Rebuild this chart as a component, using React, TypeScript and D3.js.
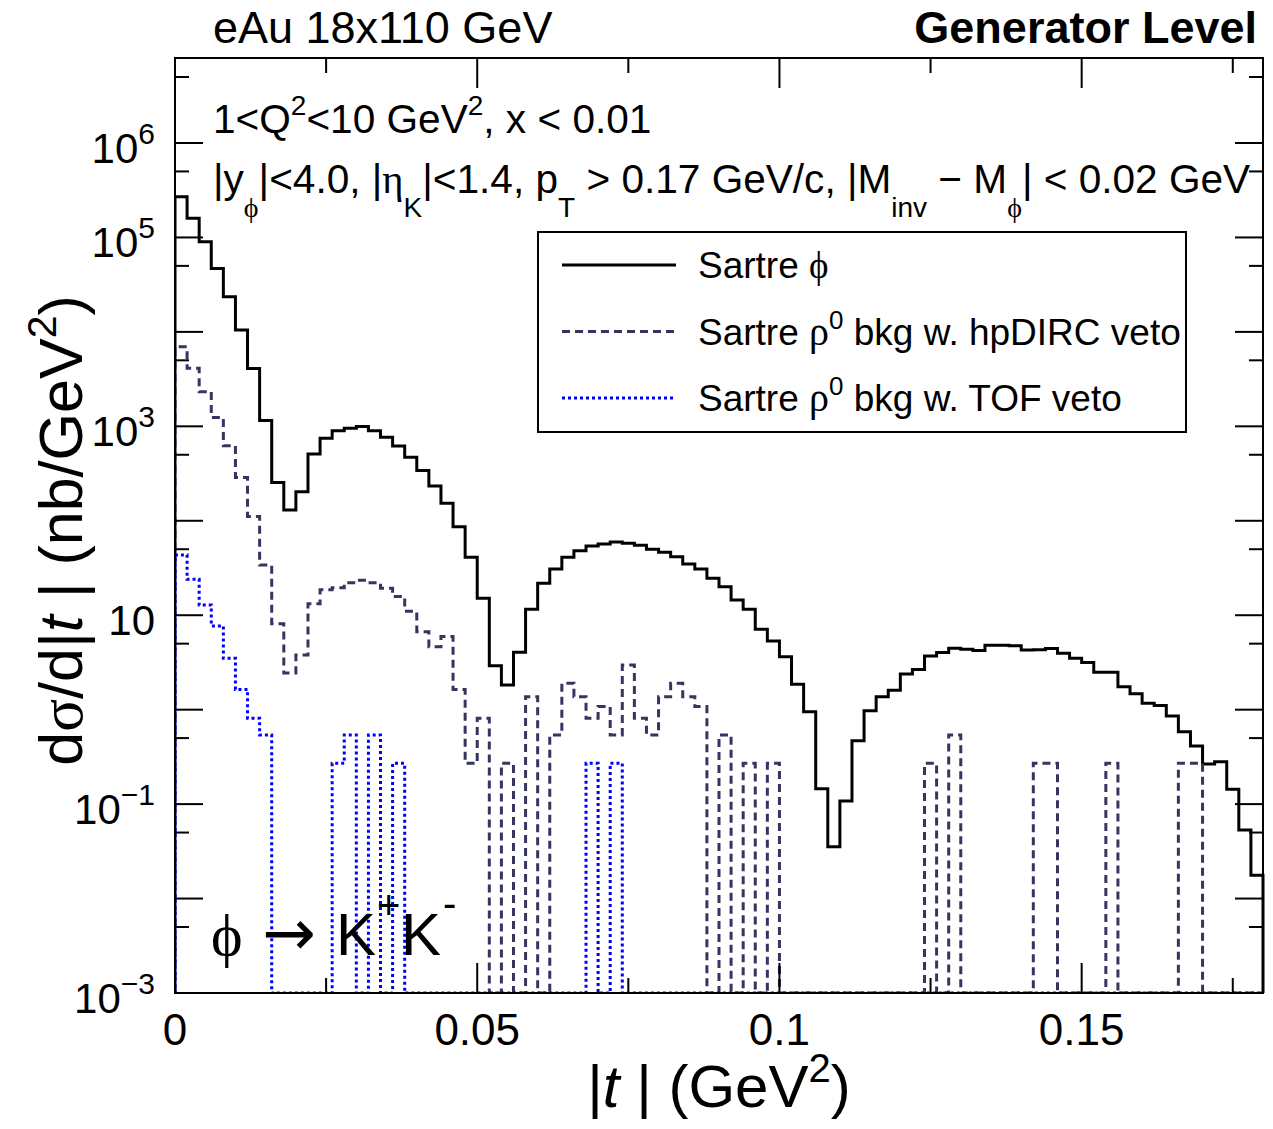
import React from "react";
import * as d3 from "d3";

// ---- data (|t| histograms, 90 bins of 0.002 GeV^2 from 0 to 0.18) ----
const binWidth = 0.002;
const binCount = 90;

const sartrePhi = [
  2.7e5, 1.6e5, 9.0e4, 4.7e4, 2.35e4, 1.05e4, 4100, 1150, 254, 130,
  203, 509, 746, 900, 953, 993, 900, 766, 619, 470,
  340, 233, 153, 86.7, 41, 15.1, 2.92, 1.82, 4.05, 11.6,
  21.8, 30.9, 41, 48.3, 54.1, 56.8, 59.6, 57.7, 55, 49.9,
  46.3, 41.7, 34.9, 30.9, 24.6, 20.0, 14.5, 11.6, 7.1, 5.33,
  3.64, 1.86, 0.953, 0.145, 0.0354, 0.108, 0.47, 0.975, 1.37, 1.61,
  2.39, 2.67, 3.7, 4.02, 4.47, 4.36, 4.22, 4.8, 4.8, 4.76,
  4.29, 4.32, 4.43, 3.95, 3.5, 3.15, 2.49, 2.49, 1.75, 1.47,
  1.17, 1.11, 0.857, 0.585, 0.412, 0.266, 0.281, 0.144, 0.0532, 0.0177,
];

const rhoHpDirc = [
  6970, 4120, 2330, 1240, 624, 288, 111, 34, 8.1, 2.45,
  3.79, 13.2, 18.6, 19.5, 22.1, 23.4, 22.1, 19.3, 15.8, 11.0,
  6.7, 4.65, 5.96, 1.64, 0.27, 0.81, 0, 0.27, 0, 1.37,
  0, 0.54, 1.9, 1.37, 0.81, 1.08, 0.54, 2.97, 0.81, 0.54,
  1.37, 1.9, 1.37, 1.08, 0, 0.54, 0, 0.27, 0, 0.27,
  0, 0, 0, 0, 0, 0, 0, 0, 0, 0,
  0, 0, 0.27, 0, 0.54, 0, 0, 0, 0, 0,
  0, 0.27, 0.27, 0, 0, 0, 0, 0.27, 0, 0,
  0, 0, 0, 0.27, 0.27, 0, 0, 0, 0, 0,
];

const rhoTof = [
  43.5, 24, 12.8, 7.7, 3.5, 1.64, 0.81, 0.54, 0, 0,
  0, 0, 0, 0.27, 0.54, 0, 0.54, 0, 0.27, 0,
  0, 0, 0, 0, 0, 0, 0, 0, 0, 0,
  0, 0, 0, 0, 0.27, 0, 0.27, 0, 0, 0,
  0, 0, 0, 0, 0, 0, 0, 0, 0, 0,
  0, 0, 0, 0, 0, 0, 0, 0, 0, 0,
  0, 0, 0, 0, 0, 0, 0, 0, 0, 0,
  0, 0, 0, 0, 0, 0, 0, 0, 0, 0,
  0, 0, 0, 0, 0, 0, 0, 0, 0, 0,
];

const xMajorTicks = [0, 0.05, 0.1, 0.15];
const xMinorTicks = [0.025, 0.075, 0.125, 0.175];
const xTickLabels = ["0", "0.05", "0.1", "0.15"];
const yMajorExps = [-3, -2, -1, 0, 1, 2, 3, 4, 5, 6];
const yLabelExps = [6, 5, 3, 1, -1, -3];

const PHI = "\u03D5";
const legendLabels = [
  "Sartre " + PHI,
  "Sartre ρ0 bkg w. hpDIRC veto",
  "Sartre ρ0 bkg w. TOF veto",
];

// ---- layout ----
const W = 1273;
const H = 1129;
const left = 175;
const right = 1263;
const top = 58;
const bottom = 993;
const yMin = 1e-3;
const yMax = Math.pow(10, 6.9);

const SANS = "'Liberation Sans', Arial, Helvetica, sans-serif";
const SERIF = "'Liberation Serif', 'Times New Roman', serif";

const x = d3.scaleLinear().domain([0, binCount * binWidth]).range([left, right]);
const y = d3.scaleLog().domain([yMin, yMax]).range([bottom, top]);

function histPath(vals: number[]): string {
  const pts: [number, number][] = [[0, yMin]];
  vals.forEach((v, i) => pts.push([i * binWidth, Math.max(v, yMin)]));
  pts.push([binCount * binWidth, Math.max(vals[vals.length - 1], yMin)]);
  pts.push([binCount * binWidth, yMin]);
  const line = d3
    .line<[number, number]>()
    .x((d) => x(d[0]))
    .y((d) => y(d[1]))
    .curve(d3.curveStepAfter);
  return line(pts) || "";
}

const series = [
  { vals: sartrePhi, color: "#000000", dash: "none", width: 3 },
  { vals: rhoHpDirc, color: "#35355f", dash: "8,5", width: 3 },
  { vals: rhoTof, color: "#0000ff", dash: "3,3", width: 3 },
];

export default function App() {
  const fs = 40.6;
  const sub = 28;
  return (
    <div style={{ position: "absolute", left: 0, top: 0 }}>
      <svg width={W} height={H} style={{ display: "block", background: "#fff" }}>
        <defs>
          <clipPath id="frame">
            <rect x={left} y={top - 2} width={right - left + 2} height={bottom - top + 3} />
          </clipPath>
        </defs>

        {/* histograms */}
        <g clipPath="url(#frame)">
          {series.map((s, i) => (
            <path
              key={i}
              d={histPath(s.vals)}
              fill="none"
              stroke={s.color}
              strokeWidth={s.width}
              strokeDasharray={s.dash}
              strokeLinejoin="miter"
            />
          ))}
        </g>

        {/* frame */}
        <rect x={left} y={top} width={right - left} height={bottom - top} fill="none" stroke="#000" strokeWidth={2} />

        {/* x ticks */}
        {xMajorTicks.map((t) => (
          <g key={"xM" + t}>
            <line x1={x(t)} x2={x(t)} y1={bottom} y2={bottom - 30} stroke="#000" strokeWidth={2} />
            <line x1={x(t)} x2={x(t)} y1={top} y2={top + 30} stroke="#000" strokeWidth={2} />
          </g>
        ))}
        {xMinorTicks.map((t) => (
          <g key={"xm" + t}>
            <line x1={x(t)} x2={x(t)} y1={bottom} y2={bottom - 15} stroke="#000" strokeWidth={2} />
            <line x1={x(t)} x2={x(t)} y1={top} y2={top + 15} stroke="#000" strokeWidth={2} />
          </g>
        ))}
        {xMajorTicks.map((t, i) => (
          <text key={"xl" + t} x={x(t)} y={1045} fontSize={44} fontFamily={SANS} textAnchor="middle">
            {xTickLabels[i]}
          </text>
        ))}

        {/* y ticks */}
        {yMajorExps.map((e) => {
          const v = Math.pow(10, e);
          const vm = 5 * Math.pow(10, e);
          return (
            <g key={"y" + e}>
              <line x1={left} x2={left + 28} y1={y(v)} y2={y(v)} stroke="#000" strokeWidth={2} />
              <line x1={right} x2={right - 28} y1={y(v)} y2={y(v)} stroke="#000" strokeWidth={2} />
              {vm < yMax && (
                <>
                  <line x1={left} x2={left + 14} y1={y(vm)} y2={y(vm)} stroke="#000" strokeWidth={2} />
                  <line x1={right} x2={right - 14} y1={y(vm)} y2={y(vm)} stroke="#000" strokeWidth={2} />
                </>
              )}
            </g>
          );
        })}
        {yLabelExps.map((e) => (
          <text key={"yl" + e} x={155} y={y(Math.pow(10, e)) + 20} fontSize={42} fontFamily={SANS} textAnchor="end">
            10
            {e !== 1 && (
              <tspan dy={-19} fontSize={30}>
                {e < 0 ? "\u2212" + Math.abs(e) : String(e)}
              </tspan>
            )}
          </text>
        ))}

        {/* axis titles */}
        <text x={(left + right) / 2} y={1107} fontSize={60} fontFamily={SANS} textAnchor="middle">
          |<tspan fontStyle="italic">t</tspan> | (GeV<tspan dy={-25} fontSize={40}>2</tspan>
          <tspan dy={25}>)</tspan>
        </text>
        <text
          transform={`translate(82, ${(top + bottom) / 2 + 5}) rotate(-90)`}
          fontSize={61}
          fontFamily={SANS}
          textAnchor="middle"
        >
          d<tspan fontFamily={SERIF}>σ</tspan>/d|<tspan fontStyle="italic">t</tspan> | (nb/GeV
          <tspan dy={-26} fontSize={41}>2</tspan>
          <tspan dy={26}>)</tspan>
        </text>

        {/* header texts */}
        <text x={213} y={43} fontSize={45} fontFamily={SANS}>eAu 18x110 GeV</text>
        <text x={1257} y={43} fontSize={45} fontFamily={SANS} fontWeight="bold" textAnchor="end">
          Generator Level
        </text>
        <text x={213} y={133} fontSize={fs} fontFamily={SANS}>
          1&lt;Q<tspan dy={-18} fontSize={sub}>2</tspan>
          <tspan dy={18}>&lt;10 GeV</tspan>
          <tspan dy={-18} fontSize={sub}>2</tspan>
          <tspan dy={18}>, x &lt; 0.01</tspan>
        </text>
        <text x={213} y={193} fontSize={fs} fontFamily={SANS}>
          |y<tspan dy={24} fontSize={sub} fontFamily={SERIF}>{PHI}</tspan>
          <tspan dy={-24}>|&lt;4.0, |</tspan>
          <tspan fontFamily={SERIF}>η</tspan>
          <tspan dy={24} fontSize={sub}>K</tspan>
          <tspan dy={-24}>|&lt;1.4, p</tspan>
          <tspan dy={24} fontSize={sub}>T</tspan>
          <tspan dy={-24}> &gt; 0.17 GeV/c, |M</tspan>
          <tspan dy={24} fontSize={sub}>inv</tspan>
          <tspan dy={-24}>{"  \u2212 M"}</tspan>
          <tspan dy={24} fontSize={sub} fontFamily={SERIF}>{PHI}</tspan>
          <tspan dy={-24}>| &lt; 0.02 GeV</tspan>
        </text>

        {/* decay label */}
        <text y={955} fontSize={60} fontFamily={SANS}>
          <tspan x={211} fontFamily={SERIF}>{PHI}</tspan>
          <tspan x={262} y={955} fontSize={64} fontFamily="'DejaVu Sans', sans-serif">{"\u2192"}</tspan>
          <tspan x={336} y={955}>K</tspan>
          <tspan x={377} dy={-36} fontSize={40}>+</tspan>
          <tspan x={401} dy={36}>K</tspan>
          <tspan x={443} dy={-38} fontSize={40}>-</tspan>
        </text>

        {/* legend */}
        <rect x={538} y={232} width={648} height={200} fill="#fff" stroke="#000" strokeWidth={2} />
        {series.map((s, i) => {
          const ly = 265 + i * 66.5;
          const parts = legendLabels[i].split("ρ0");
          return (
            <g key={"lg" + i}>
              <line x1={562} x2={676} y1={ly} y2={ly} stroke={s.color} strokeWidth={s.width} strokeDasharray={s.dash} />
              <text x={698} y={ly + 13} fontSize={37} fontFamily={SANS}>
                {i === 0 ? (
                  <>
                    Sartre <tspan fontFamily={SERIF}>{PHI}</tspan>
                  </>
                ) : (
                  <>
                    {parts[0]}
                    <tspan fontFamily={SERIF} fontSize={40}>ρ</tspan>
                    <tspan dy={-16} fontSize={26}>0</tspan>
                    <tspan dy={16}>{parts[1]}</tspan>
                  </>
                )}
              </text>
            </g>
          );
        })}
      </svg>
    </div>
  );
}
